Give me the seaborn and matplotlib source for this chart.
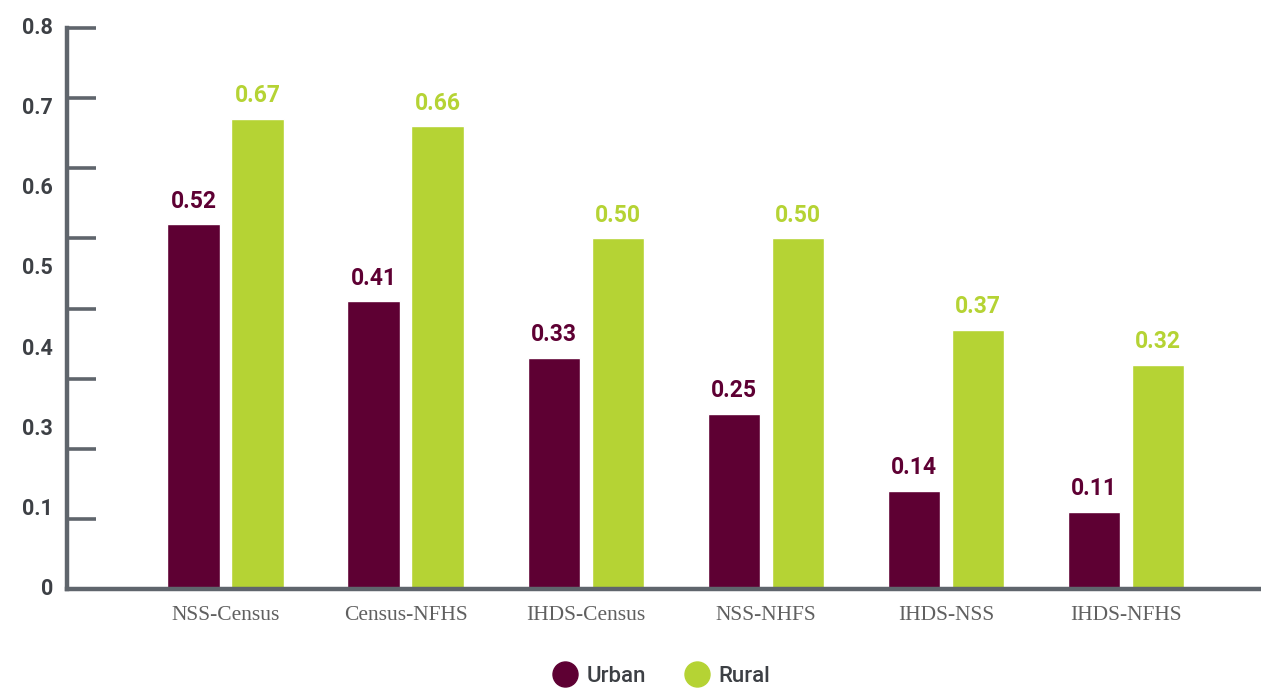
import numpy as np
import pandas as pd
import matplotlib
matplotlib.use("Agg")
import matplotlib.pyplot as plt
from matplotlib.lines import Line2D
import matplotlib.transforms as mtransforms
import seaborn as sns

# Data
pairs = ["NSS-Census", "Census-NFHS", "IHDS-Census", "NSS-NHFS", "IHDS-NSS", "IHDS-NFHS"]
urban = [0.52, 0.41, 0.33, 0.25, 0.14, 0.11]
rural = [0.67, 0.66, 0.50, 0.50, 0.37, 0.32]
areas = ["Urban", "Rural"]
y_tick_values = [0, 0.1, 0.2, 0.3, 0.4, 0.5, 0.6, 0.7, 0.8]
y_tick_labels = ["0.8", "0.7", "0.6", "0.5", "0.4", "0.3", "0.1", "0"]

MAROON = "#5e0033"
LIME = "#b5d334"
AXIS_GREY = "#5f656c"
TEXT_GREY = "#3d4045"

df = pd.DataFrame({
    "pair": pairs * 2,
    "value": urban + rural,
    "area": ["Urban"] * len(pairs) + ["Rural"] * len(pairs),
})

sns.set_theme(style="white")
plt.rcParams["font.family"] = ["Roboto", "DejaVu Sans"]

fig = plt.figure(figsize=(12.61, 6.88), dpi=100)
W, H = 1261, 688
ax = fig.add_axes([67 / W, (H - 589) / H, (W - 67) / W, (589 - 28) / H])

sns.barplot(data=df, x="pair", y="value", hue="area", hue_order=areas,
            palette=[MAROON, LIME], saturation=1, width=0.711, gap=0.173,
            legend=False, ax=ax)

ax.set_xlim(-0.883, 5.75)
ax.set_ylim(0, 0.8)
ax.set_xlabel("")
ax.set_ylabel("")

# Axes styling
for side in ["top", "right"]:
    ax.spines[side].set_visible(False)
for side in ["left", "bottom"]:
    ax.spines[side].set_color(AXIS_GREY)
    ax.spines[side].set_linewidth(3.2)

ax.set_yticks(y_tick_values)
ax.set_yticklabels([])
ax.tick_params(axis="y", direction="in", length=21, width=2.6, color=AXIS_GREY, left=True)
ax.tick_params(axis="x", length=0, pad=12)
for lbl in ax.get_xticklabels():
    lbl.set_fontfamily("Liberation Serif")
    lbl.set_fontsize(15.5)
    lbl.set_color("#606060")

# Y labels spread evenly down the axis
trans = mtransforms.blended_transform_factory(ax.transAxes, ax.transData)
for lab, yv in zip(y_tick_labels, np.linspace(0.8, 0, len(y_tick_labels))):
    ax.text(-14 / (W - 67), yv, lab, transform=trans, ha="right", va="center",
            fontsize=15.5, fontweight="bold", color=TEXT_GREY)

# Value labels above bars
for container, vals, col in zip(ax.containers, [urban, rural], [MAROON, LIME]):
    for bar, v in zip(container, vals):
        ax.annotate(f"{v:.2f}", (bar.get_x() + bar.get_width() / 2, v),
                    xytext=(0, 12), textcoords="offset points",
                    ha="center", va="baseline", fontsize=16.5,
                    fontweight="bold", color=col)

# Legend
handles = [Line2D([], [], marker="o", linestyle="", markersize=18,
                  markerfacecolor=c, markeredgecolor=c) for c in [MAROON, LIME]]
fig.legend(handles, areas, loc="center", bbox_to_anchor=(662 / W, 1 - 676 / H),
           ncol=2, frameon=False, handlelength=1.0, handletextpad=0.45,
           columnspacing=1.8, prop={"family": "Roboto", "size": 16, "weight": "medium"},
           labelcolor=TEXT_GREY)

fig.savefig("out.png", dpi=100, facecolor="white")
